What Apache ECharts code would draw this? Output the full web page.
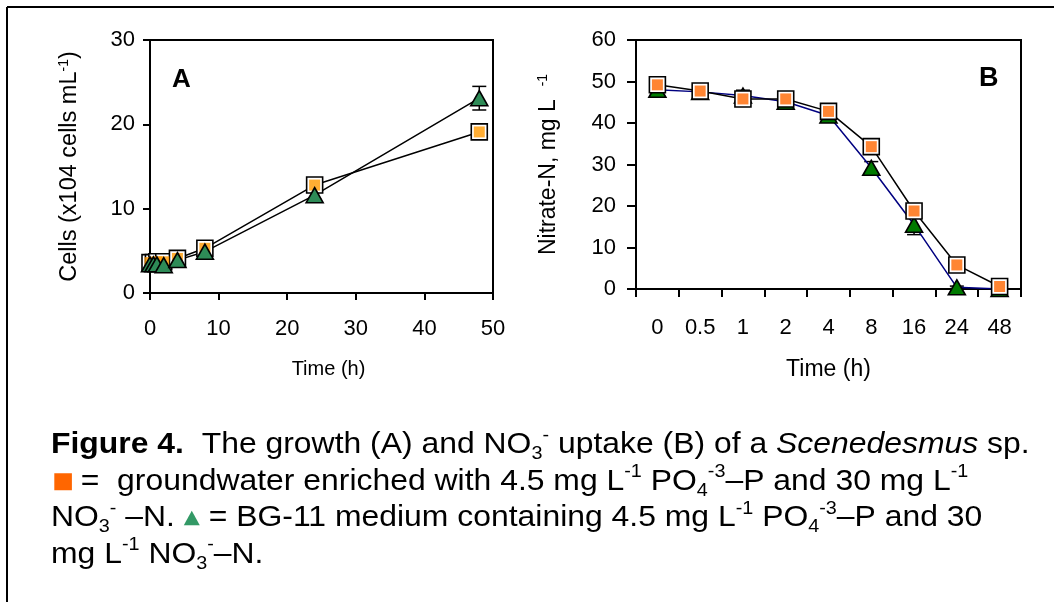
<!DOCTYPE html>
<html>
<head>
<meta charset="utf-8">
<script src="https://cdn.jsdelivr.net/npm/echarts@6/dist/echarts.min.js"></script>
<style>
  html, body { margin: 0; padding: 0; background: #fff; }
  #chart { width: 1054px; height: 602px; }
</style>
</head>
<body>
<div id="chart"></div>
<script>
// ---- Panel A: cell density over time (h) ----
const timesA = [0, 0.5, 1, 2, 4, 8, 24, 48];
const cellsGroundwater    = [3.6, 3.6, 3.7, 3.7, 4.1, 5.3, 12.8, 19.1];
const cellsGroundwaterErr = [0.2, 0.2, 0.2, 0.2, 0.3, 0.3, 0.4, 0.5];
const cellsBG11           = [3.4, 3.4, 3.4, 3.3, 3.9, 4.9, 11.6, 23.1];
const cellsBG11Err        = [0.2, 0.2, 0.2, 0.2, 0.3, 0.3, 0.5, 1.4];
const xTicksA = [0, 10, 20, 30, 40, 50];
const yTicksA = [0, 10, 20, 30];

// ---- Panel B: nitrate-N remaining (mg/L) ----
const timesB = ['0', '0.5', '1', '2', '4', '8', '16', '24', '48'];
const nitrateGroundwater    = [49.2, 47.7, 45.8, 45.8, 42.8, 34.3, 18.8, 5.8, 0.6];
const nitrateGroundwaterErr = [0.5, 0.8, 0.6, 0.6, 0.6, 0.8, 1.2, 0.8, 0.3];
const nitrateBG11           = [48.0, 47.5, 46.6, 45.1, 41.8, 29.2, 15.5, 0.4, 0.0];
const nitrateBG11Err        = [0.4, 0.5, 1.3, 0.5, 0.6, 1.5, 2.4, 0.3, 0.2];
const yTicksB = [0, 10, 20, 30, 40, 50, 60];

const FONT = 'Liberation Sans, Arial, sans-serif';
const chart = echarts.init(document.getElementById('chart'), null, { renderer: 'canvas' });

function pairs(xs, ys) { return xs.map((x, i) => [x, ys[i]]); }

// vertical error bars with caps, drawn through the axis scales
function errorBars(axis, xs, ys, errs) {
  return {
    type: 'custom', xAxisIndex: axis, yAxisIndex: axis, z: 1, silent: true, clip: true,
    renderItem(params, api) {
      const x = api.value(0);
      const lo = api.coord([x, api.value(1)]);
      const hi = api.coord([x, api.value(2)]);
      const half = 7;
      const st = { stroke: '#000', lineWidth: 1.5 };
      return { type: 'group', children: [
        { type: 'line', shape: { x1: lo[0], y1: lo[1], x2: hi[0], y2: hi[1] }, style: st },
        { type: 'line', shape: { x1: lo[0] - half, y1: lo[1], x2: lo[0] + half, y2: lo[1] }, style: st },
        { type: 'line', shape: { x1: hi[0] - half, y1: hi[1], x2: hi[0] + half, y2: hi[1] }, style: st }
      ]};
    },
    data: xs.map((x, i) => [x, ys[i] - errs[i], ys[i] + errs[i]])
  };
}

// square marker: black outline, white ring, coloured core
function squareSeries(axis, data, fill) {
  return [
    { type: 'line', xAxisIndex: axis, yAxisIndex: axis, data, z: 2, silent: true,
      symbol: 'rect', symbolSize: 16, showAllSymbol: true,
      itemStyle: { color: '#fff', borderColor: '#000', borderWidth: 1.6 },
      lineStyle: { color: '#000', width: 1.5 } },
    { type: 'scatter', xAxisIndex: axis, yAxisIndex: axis, data, z: 2, silent: true,
      symbol: 'rect', symbolSize: 11, itemStyle: { color: fill, borderWidth: 0 } }
  ];
}

function triangleSeries(axis, data, fill, lineColor) {
  return [
    { type: 'line', xAxisIndex: axis, yAxisIndex: axis, data, z: 2, silent: true,
      symbol: 'triangle', symbolSize: [17, 15], showAllSymbol: true,
      itemStyle: { color: fill, borderColor: '#000', borderWidth: 1.6 },
      lineStyle: { color: lineColor, width: 1.5 } }
  ];
}

const axisLine = { show: true, onZero: false, lineStyle: { color: '#000', width: 2 } };
const labelStyle = { color: '#000', fontFamily: FONT, fontSize: 22 };
const supRich = { s: { fontSize: 14, verticalAlign: 'top', lineHeight: 12, fontFamily: FONT, color: '#000' } };

const idxB = timesB.map((_, i) => i);

const option = {
  animation: false,
  backgroundColor: '#fff',
  grid: [
    { left: 150, top: 40, width: 343, height: 253, show: true, borderColor: '#000', borderWidth: 2, backgroundColor: 'transparent' },
    { left: 636, top: 40, width: 385, height: 249, show: true, borderColor: '#000', borderWidth: 2, backgroundColor: 'transparent' }
  ],
  xAxis: [
    { type: 'value', gridIndex: 0, min: xTicksA[0], max: xTicksA[xTicksA.length - 1], interval: 10,
      axisLine, splitLine: { show: false },
      axisTick: { show: true, inside: false, length: 7, lineStyle: { color: '#000', width: 2 } },
      axisLabel: { ...labelStyle, margin: 25 },
      name: 'Time (h)', nameLocation: 'middle', nameGap: 66,
      nameTextStyle: { color: '#000', fontFamily: FONT, fontSize: 20, padding: [0, 0, 0, 14] } },
    { type: 'category', gridIndex: 1, data: timesB, boundaryGap: true,
      axisLine, splitLine: { show: false },
      axisTick: { show: true, inside: false, length: 8, alignWithLabel: false, lineStyle: { color: '#000', width: 2 } },
      axisLabel: { ...labelStyle, margin: 28, interval: 0 },
      name: 'Time (h)', nameLocation: 'middle', nameGap: 69,
      nameTextStyle: { color: '#000', fontFamily: FONT, fontSize: 23 } }
  ],
  yAxis: [
    { type: 'value', gridIndex: 0, min: yTicksA[0], max: yTicksA[yTicksA.length - 1], interval: 10,
      axisLine, splitLine: { show: false },
      axisTick: { show: true, inside: false, length: 7, lineStyle: { color: '#000', width: 2 } },
      axisLabel: { ...labelStyle, margin: 15 },
      name: 'Cells (x104 cells mL{s|-1})', nameLocation: 'middle', nameGap: 68,
      nameTextStyle: { color: '#000', fontFamily: FONT, fontSize: 23.5, lineHeight: 25, rich: supRich } },
    { type: 'value', gridIndex: 1, min: yTicksB[0], max: yTicksB[yTicksB.length - 1], interval: 10,
      axisLine, splitLine: { show: false },
      axisTick: { show: true, inside: false, length: 9, lineStyle: { color: '#000', width: 2 } },
      axisLabel: { ...labelStyle, margin: 20 },
      name: 'Nitrate-N, mg L  {s|-1}', nameLocation: 'middle', nameGap: 75,
      nameTextStyle: { color: '#000', fontFamily: FONT, fontSize: 23, lineHeight: 25, rich: supRich } }
  ],
  series: [
    // Panel A: groundwater below, BG-11 on top
    errorBars(0, timesA, cellsGroundwater, cellsGroundwaterErr),
    ...squareSeries(0, pairs(timesA, cellsGroundwater), '#FF9900'),
    errorBars(0, timesA, cellsBG11, cellsBG11Err),
    ...triangleSeries(0, pairs(timesA, cellsBG11), '#2E8B57', '#000'),
    // Panel B: BG-11 below, groundwater on top
    errorBars(1, idxB, nitrateBG11, nitrateBG11Err),
    ...triangleSeries(1, pairs(idxB, nitrateBG11), '#007A00', '#000080'),
    errorBars(1, idxB, nitrateGroundwater, nitrateGroundwaterErr),
    ...squareSeries(1, pairs(idxB, nitrateGroundwater), '#FF6600')
  ],
  graphic: [
    // frame edges
    { type: 'line', shape: { x1: 7, y1: 7, x2: 1054, y2: 7 }, style: { stroke: '#000', lineWidth: 2 } },
    { type: 'line', shape: { x1: 7, y1: 7, x2: 7, y2: 602 }, style: { stroke: '#000', lineWidth: 2 } },
    // panel letters
    { type: 'text', left: 172, top: 67, style: { text: 'A', font: 'bold 26px ' + FONT, fill: '#000' } },
    { type: 'text', left: 979, top: 65, style: { text: 'B', font: 'bold 27px ' + FONT, fill: '#000' } },
    // figure caption
    { type: 'text', x: 51, y: 427, scaleX: 1.1, scaleY: 1,
      style: {
        x: 0, y: 0,
        text: [
          '{b|Figure 4.}  The growth (A) and NO{sub|3}{sup|-} uptake (B) of a {i|Scenedesmus} sp.',
          '{gap|}{sq|} =  groundwater enriched with 4.5 mg L{sup|-1} PO{sub|4}{sup|-3}\u2013P and 30 mg L{sup|-1}',
          'NO{sub|3}{sup|-} \u2013N. {tri|\u25B2} = BG-11 medium containing 4.5 mg L{sup|-1} PO{sub|4}{sup|-3}\u2013P and 30',
          'mg L{sup|-1} NO{sub|3}{sup|-}\u2013N.'
        ].join('\n'),
        font: '29px ' + FONT, fill: '#000', lineHeight: 36.5,
        rich: {
          b: { fontWeight: 'bold', fontSize: 29, fontFamily: FONT, lineHeight: 36.5 },
          i: { fontStyle: 'italic', fontSize: 29, fontFamily: FONT, lineHeight: 36.5 },
          sup: { fontSize: 18, fontFamily: FONT, verticalAlign: 'top', lineHeight: 20 },
          sub: { fontSize: 18, fontFamily: FONT, verticalAlign: 'bottom', lineHeight: 22 },
          gap: { width: 3, height: 10 },
          sq: { width: 16, height: 17, backgroundColor: '#FF6600', verticalAlign: 'middle', lineHeight: 17 },
          tri: { fontSize: 19, fontFamily: 'DejaVu Sans', fill: '#339966', color: '#339966', lineHeight: 36.5 }
        }
      } }
  ]
};
chart.setOption(option);
</script>
</body>
</html>
